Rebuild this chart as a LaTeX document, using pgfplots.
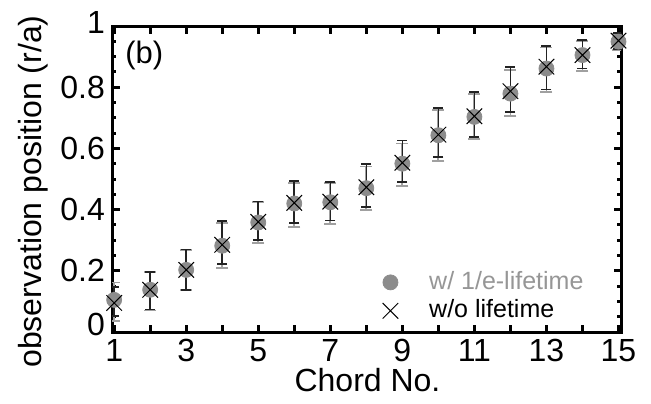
\documentclass[border=0pt]{standalone}
\usepackage{fontspec}
\setmainfont{Liberation Sans}
\usepackage{pgfplots}
\pgfplotsset{compat=1.18}
\usepackage{pgfplotstable}

\definecolor{markgray}{RGB}{140,140,140}
\definecolor{bargray}{RGB}{160,160,160}
\definecolor{textgray}{RGB}{150,150,150}
\definecolor{barblack}{RGB}{35,35,35}

\pgfplotstableread{
x y ep em
1 0.105 0.057 0.069
2 0.138 0.059 0.068
3 0.203 0.066 0.067
4 0.282 0.075 0.072
5 0.358 0.068 0.068
6 0.420 0.066 0.076
7 0.424 0.064 0.070
8 0.470 0.071 0.070
9 0.550 0.066 0.074
10 0.643 0.082 0.085
11 0.703 0.076 0.073
12 0.779 0.077 0.073
13 0.861 0.069 0.076
14 0.905 0.045 0.052
15 0.949 0.026 0.027
}\graydata

\pgfplotstableread{
x y ep em
1 0.095 0.053 0.043
2 0.138 0.059 0.065
3 0.203 0.066 0.065
4 0.285 0.077 0.062
5 0.360 0.066 0.060
6 0.422 0.071 0.065
7 0.426 0.064 0.062
8 0.473 0.076 0.065
9 0.553 0.073 0.063
10 0.645 0.088 0.074
11 0.705 0.080 0.068
12 0.787 0.080 0.069
13 0.867 0.068 0.074
14 0.905 0.049 0.044
15 0.952 0.026 0.028
}\blackdata

\begin{document}
\begin{tikzpicture}
\begin{axis}[
  scale only axis, width=254.5pt, height=153pt,
  xmin=0.94, xmax=15.07, ymin=0, ymax=1,
  axis line style={line width=1.5pt},
  tick style={line width=1.5pt, black},
  major tick length=3.75pt, minor tick length=2pt,
  xtick={1,...,15}, xticklabels={1,,3,,5,,7,,9,,11,,13,,15},
  ytick={0,0.2,0.4,0.6,0.8,1},
  yticklabels={\raisebox{8pt}{0},0.2,0.4,0.6,0.8,\raisebox{4pt}{1}},
  minor y tick num=3,
  tick label style={font=\fontsize{16}{19}\selectfont},
  /pgf/number format/assume math mode=true,
  xlabel={Chord No.}, ylabel={observation position (r/a)},
  label style={font=\fontsize{16}{19}\selectfont},
  xlabel style={at={(axis description cs:0.502,-0.195)}, anchor=base},
  ylabel style={at={(axis description cs:-0.138,0.459)}, anchor=base},
  legend style={draw=none, fill=none, at={(rel axis cs:0.531,0.206)}, anchor=north west,
    inner sep=0pt, font=\fontsize{12.5}{15}\selectfont,
    nodes={inner sep=0.5pt, text height=9.5pt, text depth=2.5pt},
    row sep=1.2pt, /tikz/every odd column/.append style={column sep=15pt}},
  legend cell align=left,
]
\addplot[only marks, mark=*, mark size=3.75pt, color=markgray,
  mark options={draw=markgray, fill=markgray},
  error bars/.cd, y dir=both, y explicit,
  error bar style={color=bargray, line width=0.9pt},
  error mark options={rotate=90, mark size=3pt, line width=0.9pt, color=bargray}]
  table[x=x, y=y, y error plus=ep, y error minus=em] {\graydata};
\addplot[only marks, mark=x, mark size=5.5pt, color=black,
  mark options={line width=0.5pt},
  error bars/.cd, y dir=both, y explicit,
  error bar style={color=barblack, line width=0.8pt},
  error mark options={rotate=90, mark size=2.5pt, line width=0.8pt, color=barblack}]
  table[x=x, y=y, y error plus=ep, y error minus=em] {\blackdata};
\legend{\textcolor{textgray}{w/ 1/e-lifetime}, w/o lifetime}
\node[anchor=base west, inner sep=0pt, font=\fontsize{15.5}{18}\selectfont] at (axis description cs:0.0255,0.877) {(b)};
\end{axis}
\pgfresetboundingbox
\path[use as bounding box] (-56pt,-35.5pt) rectangle (269.5pt,166pt);
\end{tikzpicture}
\end{document}
